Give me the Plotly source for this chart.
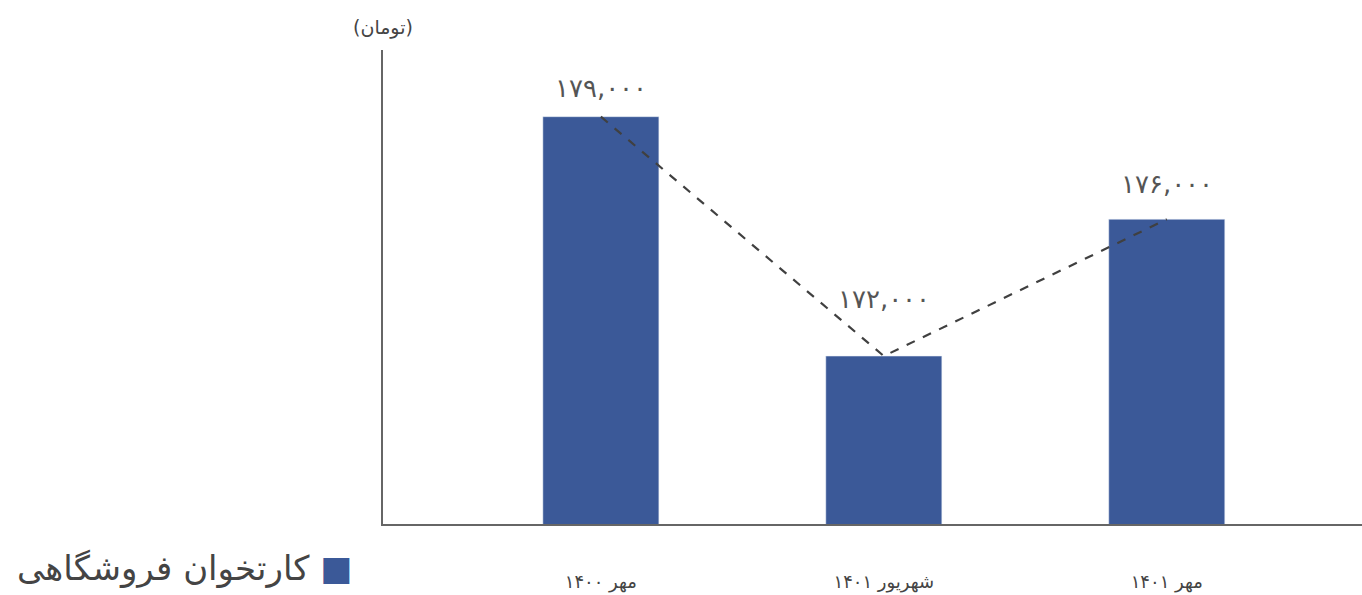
import plotly.graph_objects as go

categories = ["مهر ۱۴۰۰", "شهریور ۱۴۰۱", "مهر ۱۴۰۱"]
values = [179000, 172000, 176000]
series_name = "کارتخوان فروشگاهی"
unit_label = "(تومان)"

# style: vertical offsets (px) of value labels above each bar
label_offsets = [29, 57, 35]

FA = str.maketrans("0123456789", "۰۱۲۳۴۵۶۷۸۹")
def fa(n):
    return f"{n:,}".translate(FA)

BAR = "#3B5998"
FONT = "DejaVu Sans"

fig = go.Figure()
fig.add_trace(go.Bar(x=categories, y=values, marker_color=BAR, width=0.41,
                     name=series_name, showlegend=False))
fig.add_trace(go.Scatter(x=categories, y=values, mode="lines",
                         line=dict(color="#404040", width=2.2, dash="dash"),
                         showlegend=False, hoverinfo="skip"))

for c, v, off in zip(categories, values, label_offsets):
    fig.add_annotation(x=c, y=v, text=fa(v), showarrow=False, yshift=off,
                       font=dict(family=FONT, size=26, color="#555555"))

fig.add_annotation(xref="paper", yref="paper", x=0, xanchor="center",
                   y=1, yanchor="middle", yshift=23,
                   text=unit_label, showarrow=False,
                   font=dict(family=FONT, size=19, color="#444444"))

fig.add_annotation(xref="paper", yref="paper", x=-0.03, xanchor="right",
                   y=0, yanchor="middle", yshift=-44,
                   text=f"{series_name} <span style='color:{BAR}'>■</span>",
                   showarrow=False, font=dict(family=FONT, size=34, color="#444444"))

fig.update_layout(
    width=1362, height=595,
    margin=dict(l=383, r=0, t=50, b=71),
    plot_bgcolor="white", paper_bgcolor="white",
    font=dict(family=FONT),
)
fig.update_xaxes(type="category", range=[-0.77, 2.69], showline=True,
                 linecolor="#666666", linewidth=2, ticks="",
                 tickfont=dict(family=FONT, size=18, color="#444444"),
                 ticklabelstandoff=40, showgrid=False)
fig.update_yaxes(range=[167090, 180950], showline=True, linecolor="#666666",
                 linewidth=2, showticklabels=False, showgrid=False,
                 zeroline=False, ticks="")

fig.write_html("out.html", config={"displayModeBar": False},
               post_script="document.body.style.margin='0';document.body.style.overflow='hidden';")
